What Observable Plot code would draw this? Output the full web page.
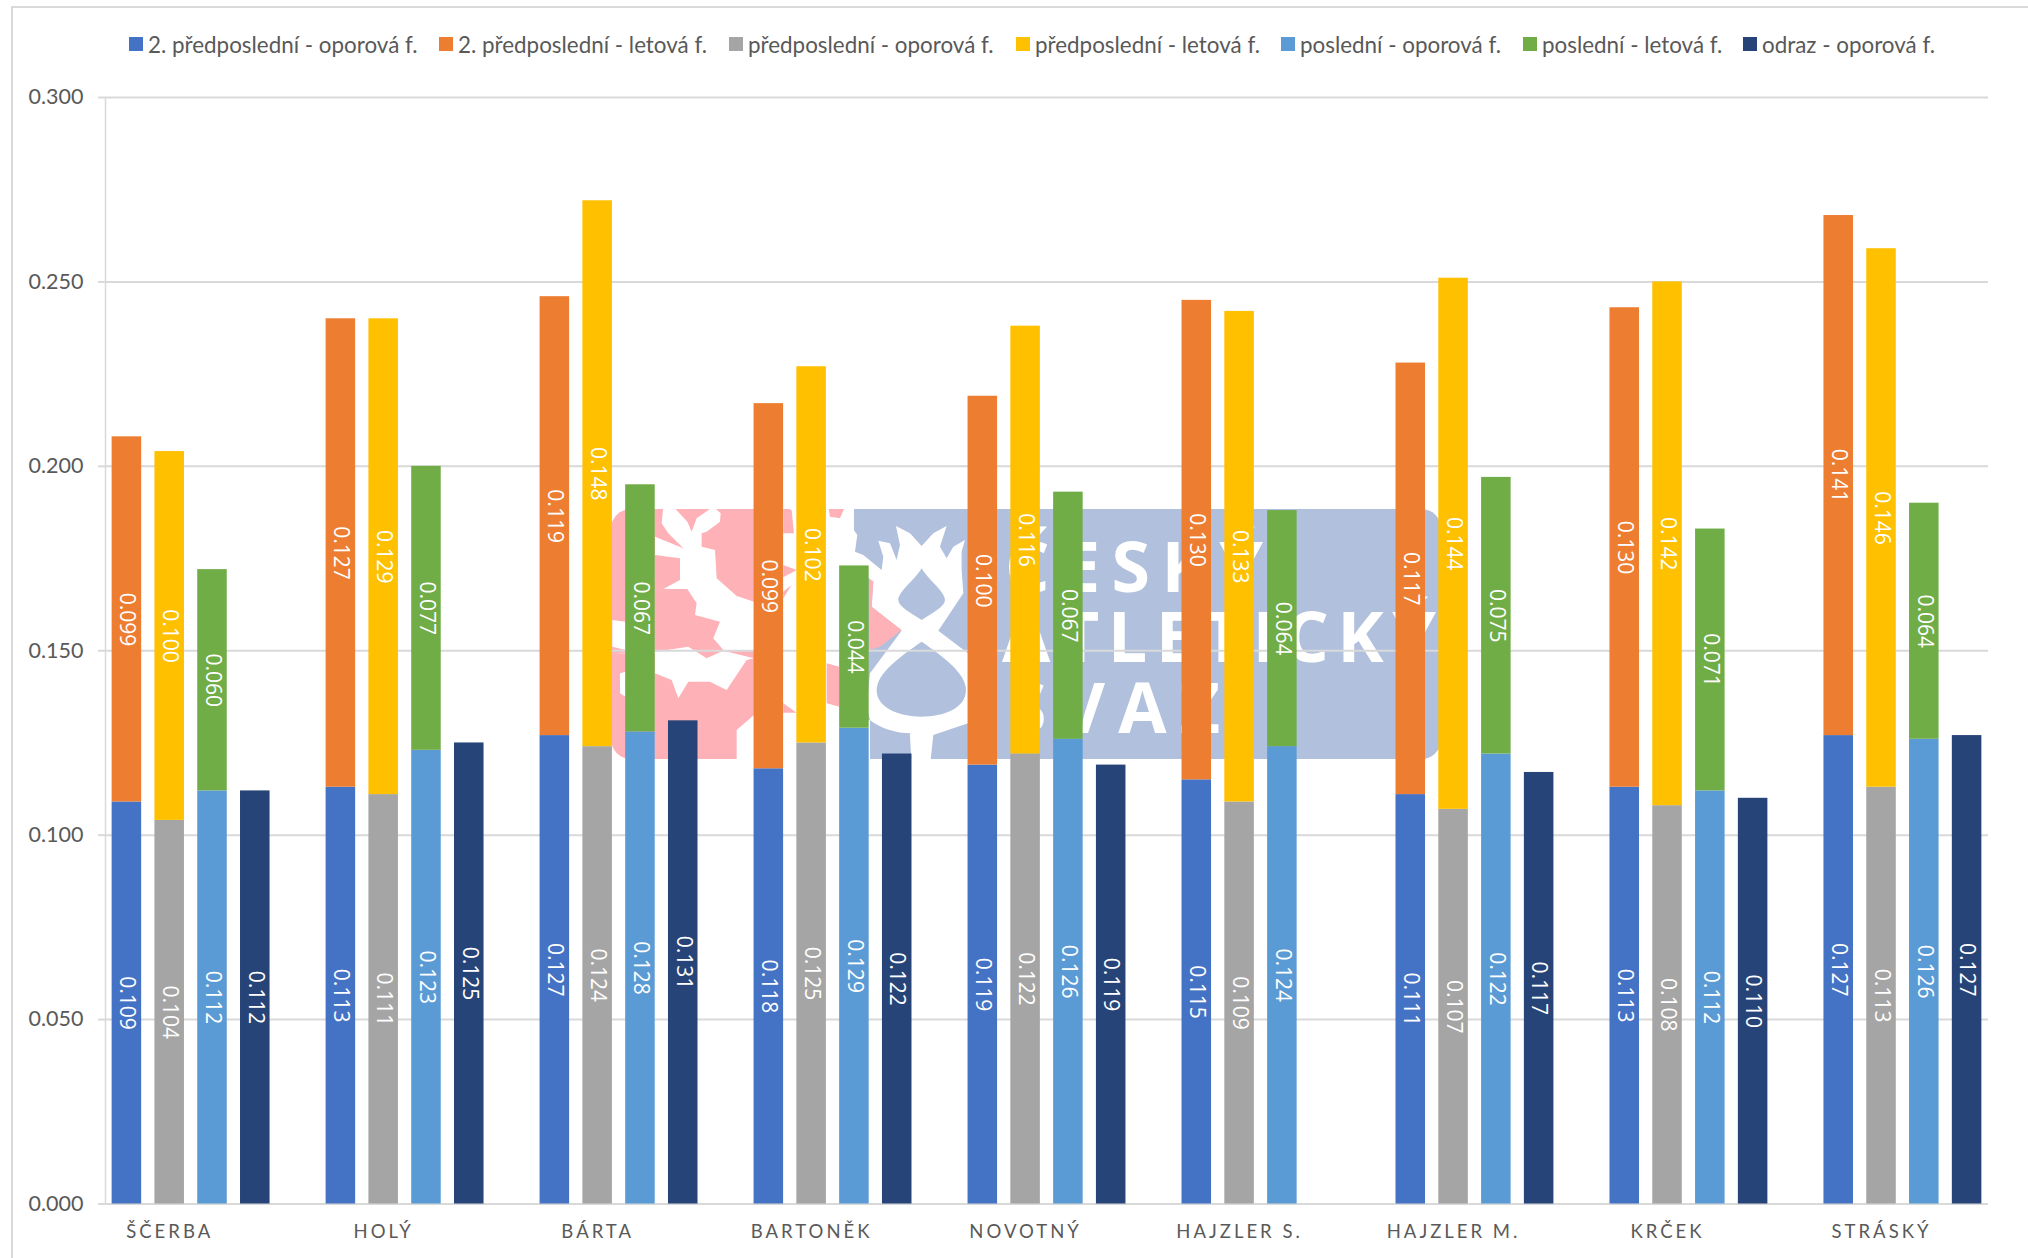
<!DOCTYPE html>
<html lang="cs">
<head>
<meta charset="utf-8">
<script src="https://cdn.jsdelivr.net/npm/d3@7"></script>
<script src="https://cdn.jsdelivr.net/npm/@observablehq/plot@0.6"></script>
<style>
  html, body { margin: 0; padding: 0; background: #fff; }
  #page { position: relative; width: 2028px; height: 1258px; overflow: hidden; font-family: Lato, "Open Sans", sans-serif; }
  #frameTop { position: absolute; left: 11px; right: 0; top: 6px; height: 2px; background: #d9d9d9; }
  #frameLeft { position: absolute; left: 11px; top: 6px; bottom: 0; width: 2px; background: #d9d9d9; }
  #legend { position: relative; height: 60px; z-index: 2; }
  .item { position: absolute; top: 30px; display: flex; align-items: center; height: 28px; font-size: 22.4px; color: #595959; white-space: nowrap; }
  .swatch { display: inline-block; width: 14px; height: 14px; margin-right: 5px; }
  #mark { position: absolute; left: 0; top: 0; z-index: 0; }
  #chart { position: relative; z-index: 1; }
  #chart g[aria-label="x-axis tick label"] text { letter-spacing: 3px; }
</style>
</head>
<body>
<div id="page">
  <svg id="mark" width="2028" height="1258" aria-hidden="true">
    <defs><clipPath id="plate"><rect x="611" y="509" width="830" height="250" rx="20"/></clipPath></defs>
    <g clip-path="url(#plate)">
      <rect x="600" y="500" width="860" height="270" fill="#feb2b8"/>
      <g transform="translate(600,490) scale(0.3333)">
        <path fill="#b1c0dd" d="M750,40 L2600,40 L2600,830 L810,830 Z"/>
        <path fill="#fff" d="M190,50 L220,50 L262,95 L275,125 L290,85 L340,50 L362,70 L360,95 L320,125 L305,130 L305,170 L345,180 L350,265 L410,318 L462,335 L462,480 L370,480 L340,445 L360,395 L285,375 L290,340 L262,297 L190,297 L240,270 L240,205 L165,195 L165,140 L250,175 L205,130 L185,100 Z"/>
        <path fill="#fff" d="M37,390 L77,395 L77,480 L37,470 Z M37,490 L165,490 L165,550 L215,570 L235,625 L265,575 L330,575 L380,600 L440,510 L462,505 L370,482 L320,505 L265,470 L165,485 Z M60,550 L77,545 L77,620 L60,610 Z M410,830 L410,720 L462,675 L462,830 Z"/>
        <rect x="462" y="40" width="300" height="790" fill="#fff"/>
        <path fill="#fff" d="M720,830 L720,700 L810,690 L800,650 L810,550 L905,422 L815,350 L820,275 L770,240 L735,200 L735,50 L757,50 L748,100 L772,135 L765,185 L790,195 L845,240 L850,200 L835,152 L870,160 L890,210 L900,165 L888,108 L930,130 L965,168 L1000,130 L1040,108 L1020,170 L1040,205 L1060,170 L1095,150 L1085,185 L1085,240 L1090,310 L1015,422 L1104,490 L1150,590 L1104,700 L1000,735 L990,830 L935,830 L930,735 L880,770 L830,750 L810,690 L810,830 Z"/>
        <path fill="#feb2b8" d="M550,50 L575,60 L582,130 L550,130 Z M550,225 L590,240 L550,262 Z M550,305 L575,285 L550,325 Z M550,640 L590,668 L550,668 Z M685,50 L735,50 L720,85 L690,80 Z M680,520 L718,530 L718,650 L680,640 Z M807,265 L820,275 L815,350 L905,420 L840,470 L807,480 Z"/>
        <path fill="#b1c0dd" d="M965,235 C985,270 1035,305 1035,330 C1035,350 995,370 965,390 C935,370 895,350 895,330 C895,305 945,270 965,235 Z"/>
        <path fill="#b1c0dd" d="M965,455 C900,500 830,550 830,600 C830,655 900,680 965,680 C1030,680 1098,655 1098,600 C1098,550 1030,500 965,455 Z"/>
        <path fill="#b1c0dd" d="M810,690 C840,715 890,730 932,730 C920,760 890,775 860,770 C830,765 815,730 810,690 Z"/>
      </g>
      <g fill="#fff" font-family="Open Sans" font-weight="700" font-size="70">
        <text x="1005" y="592" textLength="258" lengthAdjust="spacing">ČESKÝ</text>
        <text x="1002" y="662" textLength="434" lengthAdjust="spacing">ATLETICKÝ</text>
        <text x="1008" y="733" textLength="212" lengthAdjust="spacing">SVAZ</text>
      </g>
    </g>
  </svg>
  <div id="frameTop"></div>
  <div id="frameLeft"></div>
  <div id="legend"></div>
  <div id="chart"></div>
</div>
<script>
const categories = ["ŠČERBA","HOLÝ","BÁRTA","BARTONĚK","NOVOTNÝ","HAJZLER S.","HAJZLER M.","KRČEK","STRÁSKÝ"];
const seriesNames = ["2. předposlední - oporová f.","2. předposlední - letová f.","předposlední - oporová f.","předposlední - letová f.","poslední - oporová f.","poslední - letová f.","odraz - oporová f."];
const seriesColors = ["#4472c4","#ed7d31","#a5a5a5","#ffc000","#5b9bd5","#70ad47","#264478"];
const seriesColumn = [0,0,1,1,2,2,3];
const legendLeft = [129,439,729,1016,1281,1523,1743];

const predposledni2Opora = [0.109,0.113,0.127,0.118,0.119,0.115,0.111,0.113,0.127];
const predposledni2Let   = [0.099,0.127,0.119,0.099,0.100,0.130,0.117,0.130,0.141];
const predposledniOpora  = [0.104,0.111,0.124,0.125,0.122,0.109,0.107,0.108,0.113];
const predposledniLet    = [0.100,0.129,0.148,0.102,0.116,0.133,0.144,0.142,0.146];
const posledniOpora      = [0.112,0.123,0.128,0.129,0.126,0.124,0.122,0.112,0.126];
const posledniLet        = [0.060,0.077,0.067,0.044,0.067,0.064,0.075,0.071,0.064];
const odrazOpora         = [0.112,0.125,0.131,0.122,0.119,null,0.117,0.110,0.127];
const yTicks = [0,0.05,0.1,0.15,0.2,0.25,0.3];

const allSeries = [predposledni2Opora,predposledni2Let,predposledniOpora,predposledniLet,posledniOpora,posledniLet,odrazOpora];
const slotsPerGroup = 5;
const slotCount = categories.length * slotsPerGroup - 1;

const rows = [];
allSeries.forEach((vals, s) => vals.forEach((v, c) => {
  if (v != null) rows.push({slot: c * slotsPerGroup + seriesColumn[s], series: seriesNames[s], value: v});
}));

const legend = document.getElementById("legend");
seriesNames.forEach((n, i) => {
  const it = document.createElement("div");
  it.className = "item";
  it.style.left = legendLeft[i] + "px";
  const sw = document.createElement("span");
  sw.className = "swatch";
  sw.style.background = seriesColors[i];
  it.append(sw, n);
  legend.append(it);
});

const fmt = d3.format(".3f");
const chart = Plot.plot({
  width: 2028,
  height: 1198,
  marginTop: 37,
  marginBottom: 54.5,
  marginLeft: 105,
  marginRight: 40,
  style: {background: "transparent", fontFamily: "Lato, 'Open Sans', sans-serif"},
  x: {type: "band", domain: d3.range(slotCount), paddingInner: 0.31, paddingOuter: 0.155, round: false, axis: null},
  y: {domain: [0, 0.3], axis: null},
  color: {domain: seriesNames, range: seriesColors},
  marks: [
    Plot.gridY(yTicks, {stroke: "#d9d9d9", strokeOpacity: 1, strokeWidth: 2}),
    Plot.frame({anchor: "left", stroke: "#d9d9d9", strokeWidth: 1.5}),
    Plot.barY(rows, {x: "slot", y: "value", fill: "series", z: "series", order: null}),
    Plot.text(rows, Plot.stackY({x: "slot", y: "value", z: "series", order: null,
      text: d => fmt(d.value), rotate: 90, fill: "#fff", fontSize: 21, fontFamily: "Open Sans"})),
    Plot.axisY({ticks: yTicks, tickFormat: fmt, tickSize: 7, tickPadding: 15, stroke: "#d9d9d9", strokeWidth: 2,
      fill: "#595959", fontSize: 21.5, label: null}),
    Plot.axisX({ticks: categories.map((_, i) => i * slotsPerGroup + 1), tickFormat: s => categories[(s - 1) / slotsPerGroup],
      tickSize: 0, tickPadding: 21, fill: "#595959", fontSize: 18.5, label: null})
  ]
});
document.getElementById("chart").append(chart);
</script>
</body>
</html>
